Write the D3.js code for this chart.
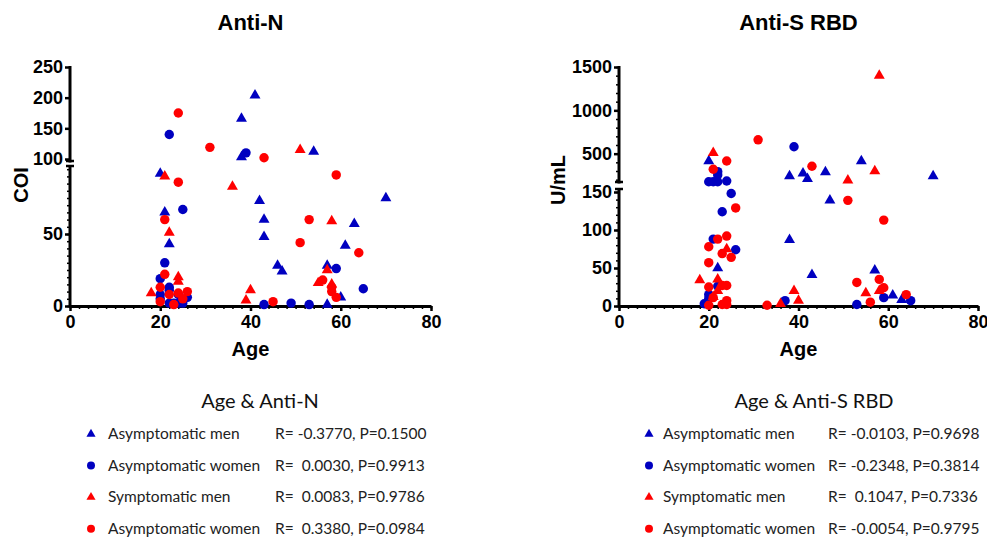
<!DOCTYPE html>
<html><head><meta charset="utf-8">
<script src="https://cdn.jsdelivr.net/npm/d3@7/dist/d3.min.js"></script>
<style>
body{margin:0;background:#fff;}
svg{display:block;}
.tk text{font-family:"Liberation Sans",Arial,sans-serif;font-weight:bold;font-size:18px;fill:#000;}
.tk line{stroke:#000;stroke-width:2.5px;}
.mn line{stroke:#000;stroke-width:1.5px;}
</style></head>
<body>
<svg id="c" width="987" height="539"></svg>
<script>
// ---------- data ----------
const xTicks = [0, 20, 40, 60, 80];
const antiNLowTicks = [0, 50];
const antiNHighTicks = [100, 150, 200, 250];
const rbdLowTicks = [0, 50, 100, 150];
const rbdHighTicks = [500, 1000, 1500];

// [age, value]
const antiN_asymMen = [[20,92],[21,65],[22,43],[38,166],[38,103],[41,204],[42,73],[43,60],[43,48],[46,28],[47,24],[54,112],[57,28],[57,1],[60,6],[61,42],[63,57],[70,75]];
const antiN_asymWomen = [[20,19],[20,8],[20,5],[21,30],[22,140],[22,13],[22,11],[22,2],[23,2],[24,8],[24,2],[25,67],[25,2],[26,6],[39,110],[43,1],[49,2],[53,1],[59,26],[65,12]];
const antiN_symMen = [[18,9],[21,90],[22,51],[24,20],[24,17],[36,83],[39,4],[40,11],[51,115],[55,16],[57,25],[58,59],[58,15]];
const antiN_symWomen = [[20,13],[20,3],[21,60],[21,22],[22,8],[23,1],[24,175],[24,86],[24,9],[25,5],[26,10],[31,119],[43,102],[45,3],[51,44],[53,60],[56,18],[58,13],[58,10],[59,91],[59,6],[64,37]];

const rbd_asymMen = [[20,415],[22,50],[38,242],[38,87],[41,273],[42,211],[43,41],[46,288],[47,139],[54,415],[57,47],[61,14],[63,8],[70,242]];
const rbd_asymWomen = [[19,3],[20,15],[20,10],[20,176],[21,176],[22,176],[22,292],[22,255],[21,88],[22,26],[23,124],[24,185],[25,148],[26,74],[37,7],[39,580],[53,2],[59,11],[65,7]];
const rbd_symMen = [[18,34],[21,510],[21,12],[22,35],[22,20],[24,75],[36,3],[39,20],[40,7],[51,193],[55,17],[57,300],[58,1400],[58,20]];
const rbd_symWomen = [[20,78],[20,57],[20,25],[20,1],[21,320],[21,11],[22,88],[23,69],[23,27],[23,2],[24,415],[24,92],[24,27],[24,7],[24,2],[25,64],[26,129],[31,660],[33,1],[43,355],[51,139],[53,31],[56,5],[58,35],[59,113],[59,24],[64,15]];

const seriesNames = ["Asymptomatic men", "Asymptomatic women", "Symptomatic men", "Asymptomatic women"];
const antiNStats = ["R= -0.3770, P=0.1500", "R=  0.0030, P=0.9913", "R=  0.0083, P=0.9786", "R=  0.3380, P=0.0984"];
const rbdStats = ["R= -0.0103, P=0.9698", "R= -0.2348, P=0.3814", "R=  0.1047, P=0.7336", "R= -0.0054, P=0.9795"];

const BLUE = "#0000c0", RED = "#ff0000";
const styles = [
  {color: BLUE, shape: d3.symbolTriangle},
  {color: BLUE, shape: d3.symbolCircle},
  {color: RED, shape: d3.symbolTriangle},
  {color: RED, shape: d3.symbolCircle}
];

const svg = d3.select("#c");

function panel(cfg) {
  const g = svg.append("g");
  const x = d3.scaleLinear().domain([0, 80]).range([cfg.x0, cfg.x1]);
  const yLow = d3.scaleLinear().domain([0, cfg.breakVal]).range([306, cfg.lowTop]);
  const yHigh = d3.scaleLinear().domain([cfg.breakVal, cfg.max]).range([cfg.highBottom, 67]);
  const y = v => v <= cfg.breakVal ? yLow(v) : yHigh(v);

  // x axis
  g.append("g").attr("class", "mn").attr("transform", "translate(0,306)")
    .call(d3.axisBottom(x).tickValues(d3.range(0, 81, 2)).tickSize(3).tickFormat(""))
    .call(a => a.select(".domain").remove());
  g.append("g").attr("class", "tk").attr("transform", "translate(0,306)")
    .call(d3.axisBottom(x).tickValues(xTicks).tickSize(5).tickPadding(4).tickSizeOuter(0))
    .call(a => a.select(".domain").attr("stroke", "#000").attr("stroke-width", 3));

  // y axis low segment
  g.append("g").attr("class", "mn").attr("transform", `translate(${cfg.x0},0)`)
    .call(d3.axisLeft(yLow).tickValues(cfg.lowMinor).tickSize(3).tickFormat(""))
    .call(a => a.select(".domain").remove());
  g.append("g").attr("class", "tk").attr("transform", `translate(${cfg.x0},0)`)
    .call(d3.axisLeft(yLow).tickValues(cfg.lowTicks).tickSize(5).tickPadding(2).tickFormat(d3.format("d")))
    .call(a => a.select(".domain").remove());
  // y axis high segment
  if (cfg.highMinor.length) {
    g.append("g").attr("class", "mn").attr("transform", `translate(${cfg.x0},0)`)
      .call(d3.axisLeft(yHigh).tickValues(cfg.highMinor).tickSize(3).tickFormat(""))
      .call(a => a.select(".domain").remove());
  }
  g.append("g").attr("class", "tk").attr("transform", `translate(${cfg.x0},0)`)
    .call(d3.axisLeft(yHigh).tickValues(cfg.highTicks).tickSize(5).tickPadding(2).tickFormat(d3.format("d")))
    .call(a => a.select(".domain").remove());

  // segment lines with break caps
  const segs = [[306, cfg.lowLineTop], [cfg.highLineBottom, 66]];
  segs.forEach(([a, b]) => {
    g.append("line").attr("x1", cfg.x0).attr("x2", cfg.x0).attr("y1", a + 1.5).attr("y2", b)
      .attr("stroke", "#000").attr("stroke-width", 3);
  });
  [cfg.lowLineTop, cfg.highLineBottom].forEach(v => {
    g.append("line").attr("x1", cfg.x0 - 4).attr("x2", cfg.x0 + 4).attr("y1", v).attr("y2", v)
      .attr("stroke", "#000").attr("stroke-width", 2.5);
  });

  // titles
  g.append("text").attr("x", (cfg.x0 + cfg.x1) / 2).attr("y", 30).attr("text-anchor", "middle")
    .attr("font-family", "Liberation Sans, Arial, sans-serif").attr("font-weight", "bold")
    .attr("font-size", 22).text(cfg.title);
  g.append("text").attr("x", (cfg.x0 + cfg.x1) / 2).attr("y", 356).attr("text-anchor", "middle")
    .attr("font-family", "Liberation Sans, Arial, sans-serif").attr("font-weight", "bold")
    .attr("font-size", 20).text("Age");
  g.append("text").attr("transform", `translate(${cfg.yLabX},${cfg.yLabY}) rotate(-90)`)
    .attr("text-anchor", "middle")
    .attr("font-family", "Liberation Sans, Arial, sans-serif").attr("font-weight", "bold")
    .attr("font-size", 20).text(cfg.yLabel);

  // points
  cfg.series.forEach((data, i) => {
    const st = styles[i];
    g.append("g").selectAll("path").data(data).join("path")
      .attr("transform", d => `translate(${x(d[0])},${y(d[1])})`)
      .attr("d", d3.symbol().type(st.shape).size(st.shape === d3.symbolCircle ? 70 : 52))
      .attr("fill", st.color);
  });

  // legend
  const lg = svg.append("g");
  lg.append("text").attr("x", cfg.legCx).attr("y", 408).attr("text-anchor", "middle")
    .attr("font-family", "Lato, sans-serif").attr("font-size", 20).attr("fill", "#111").text(cfg.legTitle);
  seriesNames.forEach((name, i) => {
    const yy = 439 + i * 31.6;
    const st = styles[i];
    lg.append("path").attr("transform", `translate(${cfg.legMx},${yy - 5})`)
      .attr("d", d3.symbol().type(st.shape).size(st.shape === d3.symbolCircle ? 50 : 36))
      .attr("fill", st.color);
    lg.append("text").attr("x", cfg.legTx).attr("y", yy)
      .attr("font-family", "Lato, sans-serif").attr("font-size", 15.5).attr("fill", "#222").text(name);
    lg.append("text").attr("x", cfg.legRx).attr("y", yy).attr("xml:space", "preserve")
      .style("white-space", "pre")
      .attr("font-family", "Lato, sans-serif").attr("font-size", 15.5).attr("fill", "#222").text(cfg.stats[i]);
  });
}

panel({
  x0: 70, x1: 431, title: "Anti-N", yLabel: "COI", yLabX: 28, yLabY: 185,
  breakVal: 100, max: 250, lowTop: 162, highBottom: 159,
  lowLineTop: 166, highLineBottom: 161,
  lowTicks: antiNLowTicks, highTicks: antiNHighTicks,
  lowMinor: d3.range(0, 96, 5), highMinor: [],
  series: [antiN_asymMen, antiN_asymWomen, antiN_symMen, antiN_symWomen],
  legTitle: "Age & Anti-N", legCx: 260, legMx: 91, legTx: 108, legRx: 275, stats: antiNStats
});
panel({
  x0: 619, x1: 978, title: "Anti-S RBD", yLabel: "U/mL", yLabX: 565, yLabY: 180,
  breakVal: 150, max: 1500, lowTop: 192, highBottom: 184,
  lowLineTop: 189, highLineBottom: 182,
  lowTicks: rbdLowTicks, highTicks: rbdHighTicks,
  lowMinor: d3.range(0, 151, 10), highMinor: d3.range(200, 1501, 100),
  series: [rbd_asymMen, rbd_asymWomen, rbd_symMen, rbd_symWomen],
  legTitle: "Age & Anti-S RBD", legCx: 814, legMx: 649, legTx: 663, legRx: 828, stats: rbdStats
});
</script>
</body></html>
